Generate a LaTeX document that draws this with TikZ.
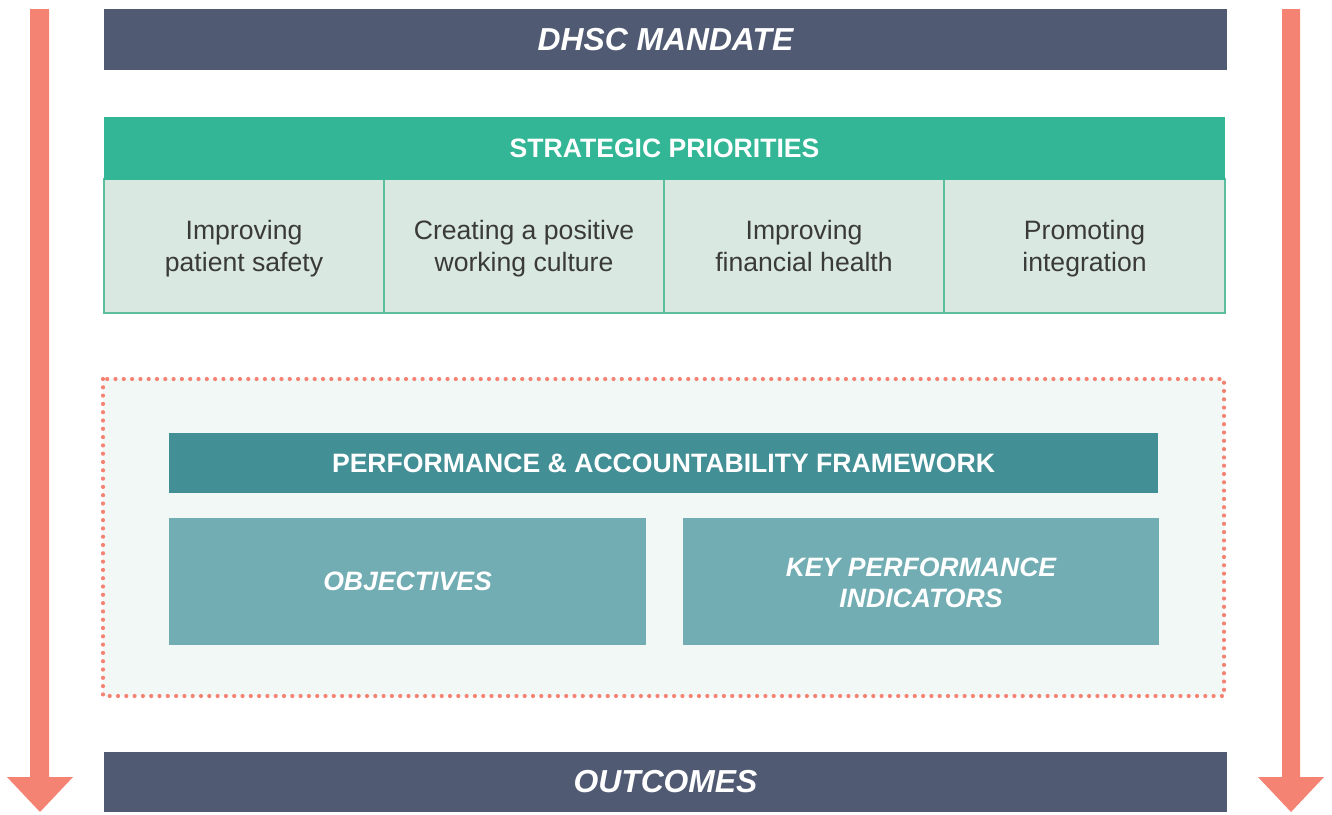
\documentclass[tikz,border=0pt]{standalone}
\usepackage{fontspec}
\setmainfont{Liberation Sans}
\definecolor{mandate}{HTML}{505A73}
\definecolor{strat}{HTML}{32B695}
\definecolor{cellfill}{HTML}{D9E8E1}
\definecolor{cellline}{HTML}{5DBE9E}
\definecolor{salmon}{HTML}{F48373}
\definecolor{frame}{HTML}{F2F8F6}
\definecolor{paf}{HTML}{428F96}
\definecolor{subbox}{HTML}{71ADB2}
\definecolor{celltext}{HTML}{3A3A3A}
\tikzset{
  band/.style={fill=mandate, draw=none, text=white, font=\fontsize{31.8}{36}\selectfont\bfseries\itshape},
  header/.style={fill=strat, draw=none, text=white, font=\fontsize{26.6}{30}\selectfont\bfseries},
  cell/.style={fill=cellfill, draw=cellline, line width=1.2pt, text=celltext, align=center, font=\fontsize{26.6}{32}\selectfont},
  pafbar/.style={fill=paf, draw=none, text=white, font=\fontsize{26.6}{30}\selectfont\bfseries},
  sub/.style={fill=subbox, draw=none, text=white, align=center, font=\fontsize{26.6}{31}\selectfont\bfseries\itshape},
  flow/.style={fill=salmon, draw=none},
}
\begin{document}
\begin{tikzpicture}[x=1pt,y=-1pt]
\useasboundingbox (0,0) rectangle (1332,814);
% side arrows
\fill[flow] (30,9) -- (49,9) -- (49,777) -- (73,777) -- (40,812) -- (7,777) -- (30,777) -- cycle;
\fill[flow] (1282,9) -- (1300,9) -- (1300,777) -- (1324,777) -- (1291,812) -- (1258,777) -- (1282,777) -- cycle;
% top and bottom bands
\path[band] (104,9) rectangle (1227,70) node[midway] (mandate) {DHSC MANDATE};
\path[band] (104,752) rectangle (1227,812) node[midway] (outcomes) {OUTCOMES};
% strategic priorities
\path[header] (104,117) rectangle (1225,179) node[midway] (prio) {STRATEGIC PRIORITIES};
\path[cell] (104,179) rectangle (384,313) node[midway, yshift=-3pt] (c1) {\strut Improving\\patient safety\strut};
\path[cell] (384,179) rectangle (664,313) node[midway, yshift=-3pt] (c2) {\strut Creating a positive\\working culture\strut};
\path[cell] (664,179) rectangle (944,313) node[midway, yshift=-3pt] (c3) {\strut Improving\\financial health\strut};
\path[cell] (944,179) rectangle (1225,313) node[midway, yshift=-3pt] (c4) {\strut Promoting\\integration\strut};
\draw[strat, line width=1.2pt] (104,179) -- (1225,179);
% framework panel
\fill[frame] (103,379) rectangle (1224,696);
\draw[salmon, line width=4.2pt, line cap=round, dash pattern=on 0pt off 8.3pt] (103,379) rectangle (1224,696);
\path[pafbar] (169,433) rectangle (1158,493) node[midway] (pafn) {PERFORMANCE \& ACCOUNTABILITY FRAMEWORK};
\path[sub] (169,518) rectangle (646,645) node[midway] (obj) {OBJECTIVES};
\path[sub] (683,518) rectangle (1159,645) node[midway, yshift=-4pt] (kpi) {\strut KEY PERFORMANCE\\INDICATORS\strut};
\end{tikzpicture}
\end{document}
